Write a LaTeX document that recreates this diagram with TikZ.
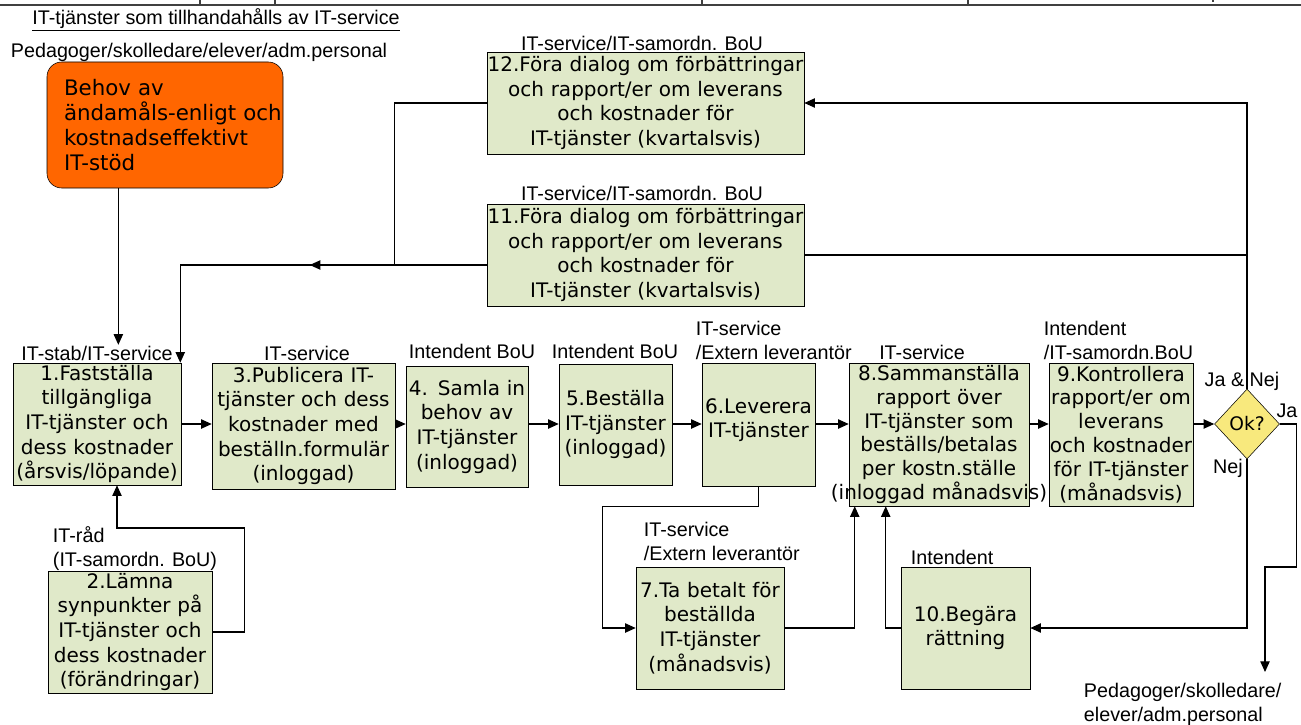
\documentclass[tikz,border=0pt]{standalone}
\usepackage{fontspec}
\setmainfont{Liberation Sans}
\newfontfamily\boxfont{DejaVu Sans}
\usetikzlibrary{shapes.geometric,arrows.meta}
\definecolor{stepgreen}{HTML}{E0E9C9}
\definecolor{needorange}{HTML}{FF6600}
\definecolor{okyellow}{HTML}{F8E97D}
\definecolor{headgray}{HTML}{404040}

\begin{document}
\begin{tikzpicture}[x=0.75pt, y=-0.75pt, >={Triangle[length=8pt,width=7pt]},
  stepbox/.style={draw, fill=stepgreen, align=center, inner sep=0pt,
    font=\boxfont\fontsize{15}{18.5}\selectfont},
  lbl/.style={inner sep=0.5pt, font=\fontsize{14.8}{18}\selectfont},
  flow/.style={line width=0.9pt}]
  \useasboundingbox (0,0) rectangle (1301,724);
  % sidhuvud (avskuret)
  \draw[headgray, line width=1pt] (0,5) -- (1301,5);
  \foreach \hx in {200,275,702,968}
    \draw[headgray, line width=1pt] (\hx,0) -- (\hx,5);
  \draw[headgray, line width=1pt] (1213,0) -- (1213,2);

  % rubriker
  \node[lbl] (title) at (216,20) {\underline{IT-tjänster som tillhandahålls av IT-service}};
  \node[lbl, anchor=west] (users) at (10,52) {Pedagoger/skolledare/elever/adm.personal};

  % behov
  \node[draw, fill=needorange, rounded corners=11pt, align=left, text width=151.5pt,
    inner xsep=12.75pt, inner ysep=0pt, minimum height=94.5pt,
    font=\boxfont\fontsize{16}{18.75}\selectfont] (ob) at (165,125)
    {Behov av\\\makebox[0pt][l]{ändamåls-enligt och}\\kostnadseffektivt\\IT-stöd};

  % dialog (kvartalsvis)
  \node[lbl] (l12) at (642,43) {IT-service/IT-samordn. BoU};
  \node[stepbox, text width=237.75pt, minimum height=76.5pt] (b12) at (645.5,103)
    {\makebox[0pt]{12.Föra dialog om förbättringar}\\och rapport/er om leverans\\och kostnader för\\IT-tjänster (kvartalsvis)};
  \node[lbl] (l11) at (642,193) {IT-service/IT-samordn. BoU};
  \node[stepbox, text width=237.75pt, minimum height=76.5pt] (b11) at (645.5,255)
    {\makebox[0pt]{11.Föra dialog om förbättringar}\\och rapport/er om leverans\\och kostnader för\\IT-tjänster (kvartalsvis)};

  % huvudflödet
  \node[lbl] (l1) at (97,353) {IT-stab/IT-service};
  \node[stepbox, text width=126pt, minimum height=91.5pt] (b1) at (97,424)
    {1.Fastställa\\tillgängliga\\IT-tjänster och\\dess kostnader\\(årsvis/löpande)};
  \node[lbl] (l3) at (307,353) {IT-service};
  \node[stepbox, text width=137.25pt, minimum height=94.5pt] (b3) at (303.5,426)
    {3.Publicera IT-\\tjänster och dess\\kostnader med\\beställn.formulär\\(inloggad)};
  \node[lbl] (l4) at (472,351) {Intendent BoU};
  \node[stepbox, text width=91.5pt, minimum height=90.75pt] (b4) at (467,426.5)
    {4. Samla in\\behov av\\IT-tjänster\\(inloggad)};
  \node[lbl] (l5) at (615,351) {Intendent BoU};
  \node[stepbox, text width=84.75pt, minimum height=90.75pt] (b5) at (615.5,424.5)
    {5.Beställa\\IT-tjänster\\(inloggad)};
  \node[lbl, anchor=west, align=left] (l6) at (695,340) {IT-service\\/Extern leverantör};
  \node[stepbox, text width=84.75pt, minimum height=92.25pt] (b6) at (758.5,424.5)
    {6.Leverera\\IT-tjänster\\[-9pt]\mbox{}};
  \node[lbl] (l8) at (922,352) {IT-service};
  \node[stepbox, text width=135pt, minimum height=107.25pt,
    font=\boxfont\fontsize{15}{17.9}\selectfont] (b8) at (939,434.5)
    {8.Sammanställa\\rapport över\\IT-tjänster som\\beställs/betalas\\per kostn.ställe\\\makebox[0pt]{(inloggad månadsvis)}};
  \node[lbl, anchor=west, align=left] (l9) at (1043,340) {Intendent\\/IT-samordn.BoU};
  \node[stepbox, text width=108pt, minimum height=107.25pt,
    font=\boxfont\fontsize{15}{17.9}\selectfont] (b9) at (1121,434.5)
    {9.Kontrollera\\rapport/er om\\leverans\\och kostnader\\för IT-tjänster\\(månadsvis)};
  \node[diamond, draw, fill=okyellow, inner sep=0pt, minimum width=48.75pt,
    minimum height=52.5pt, font=\boxfont\fontsize{14}{16}\selectfont] (ok) at (1247,424) {Ok?};
  \node[lbl] (janej) at (1242,381) {Ja \& Nej};
  \node[lbl] (ja) at (1287,411) {Ja};
  \node[lbl] (nej) at (1228,468) {Nej};

  % nedre raden
  \node[lbl, anchor=west, align=left] (l2) at (52,549) {IT-råd\\(IT-samordn. BoU)};
  \node[stepbox, text width=123pt, minimum height=91.5pt] (b2) at (130,632)
    {2.Lämna\\synpunkter på\\IT-tjänster och\\dess kostnader\\(förändringar)};
  \node[lbl, anchor=west, align=left] (l7) at (643,541) {IT-service\\/Extern leverantör};
  \node[stepbox, text width=111pt, minimum height=91.5pt] (b7) at (710,628)
    {7.Ta betalt för\\beställda\\IT-tjänster\\(månadsvis)};
  \node[lbl, anchor=west] (l10) at (910,557) {Intendent};
  \node[stepbox, text width=96.75pt, minimum height=91.5pt] (b10) at (965.5,628)
    {10.Begära\\rättning};
  \node[lbl, anchor=west, align=left] (users2) at (1083,704) {Pedagoger/skolledare/\\elever/adm.personal};
  \coordinate (jaend) at (1265,672);

  % pilar
  \draw[flow, ->] ([xshift=-35pt]ob.south) -- ([xshift=-35pt]ob.south |- l1.north);
  \foreach \src/\dst in {b1/b3, b3/b4, b4/b5, b5/b6, b6/b8, b8/b9}
    \draw[flow, ->] (\src.east |- ok) -- (\dst.west |- ok);
  \draw[flow, ->] (b9.east |- ok) -- (ok.west);
  \draw[flow, ->] (b6.south) -- ++(0,20) -- ++(-156,0) |- (b7.west);
  \draw[flow, ->] (b7.east) -| ([xshift=4.5pt]b8.south west);
  \draw[flow, ->] (b10.west) -| ([xshift=27.75pt]b8.south west);
  \draw[flow, ->] (ok.south) |- (b10.east);
  \draw[flow, ->] (ok.east) -- ++(17,0) |- (jaend |- 0,567) -- (jaend);
  \draw[flow, ->] (ok.north) |- (b12.east);
  \draw[flow] (ok.north |- b11.east) -- (b11.east);
  \draw[flow] (b12.west) -- ++(-92,0) -- ++(0,162);
  \draw[flow, ->] ([yshift=-7.5pt]b11.west) -- ++(-177,0);
  \draw[flow, ->] ([yshift=-7.5pt]b11.west) -| ([xshift=-0.75pt]b1.north east);
  \draw[flow, ->] (b2.east) -- ++(32,0) -- ++(0,-104) -| ([xshift=15pt]b1.south);
\end{tikzpicture}
\end{document}
